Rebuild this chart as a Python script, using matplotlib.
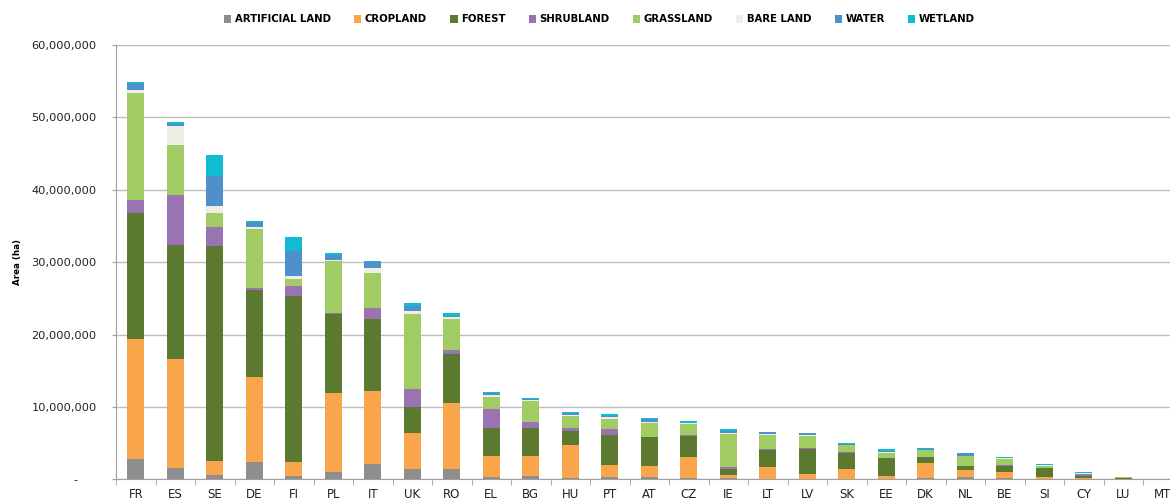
import numpy as np
import matplotlib
matplotlib.use("Agg")
import matplotlib.pyplot as plt
from matplotlib.patches import Patch
from matplotlib.ticker import FuncFormatter

# ── Data (million ha) ──────────────────────────────────────────────────────
COUNTRIES = ["FR", "ES", "SE", "DE", "FI", "PL", "IT", "UK", "RO", "EL", "BG",
             "HU", "PT", "AT", "CZ", "IE", "LT", "LV", "SK", "EE", "DK", "NL",
             "BE", "SI", "CY", "LU", "MT"]

CLASSES = ["ARTIFICIAL LAND", "CROPLAND", "FOREST", "SHRUBLAND", "GRASSLAND",
           "BARE LAND", "WATER", "WETLAND"]

artificial = [2.76, 1.61, 0.60, 2.39, 0.51, 1.01, 2.16, 1.47, 1.38, 0.37, 0.51,
              0.18, 0.32, 0.32, 0.18, 0.23, 0.09, 0.09, 0.05, 0.05, 0.23, 0.37,
              0.23, 0.05, 0.05, 0.05, 0.01]
cropland = [16.67, 15.01, 1.93, 11.79, 1.88, 10.96, 10.00, 4.88, 9.21, 2.81, 2.67,
            4.52, 1.71, 1.48, 2.91, 0.32, 1.57, 0.69, 1.33, 0.46, 2.07, 0.87,
            0.74, 0.23, 0.18, 0.06, 0.01]
forest = [17.41, 15.75, 29.71, 12.02, 22.94, 10.87, 9.94, 3.60, 6.77, 3.96, 3.96,
          2.02, 4.09, 4.00, 2.94, 0.83, 2.44, 3.46, 2.30, 2.39, 0.79, 0.56,
          0.92, 1.24, 0.28, 0.10, 0.003]
shrubland = [1.80, 6.96, 2.57, 0.28, 1.38, 0.09, 1.62, 2.53, 0.55, 2.58, 0.78,
             0.33, 0.88, 0.09, 0.05, 0.37, 0.09, 0.14, 0.14, 0.05, 0.04, 0.09,
             0.04, 0.05, 0.18, 0.01, 0.005]
grassland = [14.69, 6.90, 1.94, 8.10, 0.97, 7.28, 4.83, 10.41, 4.24, 1.70, 2.90,
             1.75, 1.34, 1.85, 1.56, 4.56, 1.98, 1.61, 0.88, 0.73, 0.92, 1.33,
             0.93, 0.32, 0.09, 0.08, 0.005]
bare_land = [0.46, 2.54, 1.06, 0.28, 0.46, 0.14, 0.60, 0.37, 0.23, 0.18, 0.09,
             0.09, 0.27, 0.23, 0.10, 0.04, 0.09, 0.09, 0.09, 0.10, 0.05, 0.05,
             0.04, 0.04, 0.05, 0.01, 0.002]
water = [1.00, 0.32, 4.09, 0.64, 3.36, 0.69, 0.92, 0.64, 0.18, 0.28, 0.14,
         0.23, 0.19, 0.37, 0.09, 0.28, 0.23, 0.28, 0.09, 0.18, 0.09, 0.32,
         0.09, 0.10, 0.09, 0.03, 0.002]
wetland = [0.14, 0.23, 2.95, 0.14, 1.93, 0.18, 0.09, 0.46, 0.37, 0.19, 0.14,
           0.14, 0.18, 0.13, 0.18, 0.32, 0.10, 0.09, 0.14, 0.28, 0.19, 0.09,
           0.10, 0.04, 0.14, 0.03, 0.003]

SERIES = [artificial, cropland, forest, shrubland, grassland, bare_land, water, wetland]
COLORS = ["#8E8E8E", "#F9A54B", "#5B7A2F", "#9A73B3", "#A1CB63", "#EFEDE6",
          "#4E8FCC", "#10BCD4"]

Y_TICKS = [0, 10e6, 20e6, 30e6, 40e6, 50e6, 60e6]


def fmt_y(v, pos):
    # excel-style accounting format: zero shown as a dash
    if v == 0:
        return "-     "
    return f"{int(v):,}"


fig = plt.figure(figsize=(11.70, 4.99), dpi=100)
ax = fig.add_axes([116 / 1170, 19.7 / 499, 1066.5 / 1170, 434.3 / 499])

x = np.arange(len(COUNTRIES))
bottom = np.zeros(len(COUNTRIES))
for vals, color in zip(SERIES, COLORS):
    v = np.array(vals) * 1e6
    ax.bar(x, v, width=0.43, bottom=bottom, color=color, linewidth=0, zorder=3)
    bottom += v

ax.set_xlim(-0.5, len(COUNTRIES) - 0.5)
ax.set_ylim(0, 60e6)

ax.set_yticks(Y_TICKS)
ax.yaxis.set_major_formatter(FuncFormatter(fmt_y))
ax.grid(axis="y", color="#BEBEBE", linewidth=1.0, zorder=0)
ax.tick_params(axis="y", length=3, color="#A0A0A0", pad=11,
               labelsize=8.2, labelcolor="#222222")

ax.set_xticks(x)
ax.set_xticklabels(COUNTRIES)
ax.set_xticks(np.arange(-0.5, len(COUNTRIES), 1.0), minor=True)
ax.tick_params(axis="x", which="major", length=0, pad=6.5,
               labelsize=8.5, labelcolor="#222222")
ax.tick_params(axis="x", which="minor", length=4, color="#A0A0A0")

for side in ("top", "right"):
    ax.spines[side].set_visible(False)
ax.spines["left"].set_color("#A0A0A0")
ax.spines["bottom"].set_color("#A0A0A0")

ax.set_ylabel("Area (ha)", fontsize=6.3, fontweight="bold", labelpad=6.5)

handles = [Patch(facecolor=c, edgecolor="none", label=l) for c, l in zip(COLORS, CLASSES)]
fig.legend(handles=handles, loc="center", ncol=8, frameon=False,
           bbox_to_anchor=(599.5 / 1170, 1 - 19.5 / 499),
           prop={"size": 7.3, "weight": "bold"},
           handlelength=0.7, handleheight=0.7, handletextpad=0.35,
           columnspacing=2.3)

fig.savefig("out.png", dpi=100)
